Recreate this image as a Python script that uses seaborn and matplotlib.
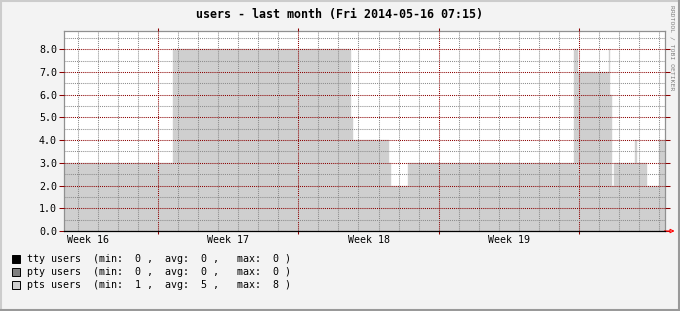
import matplotlib
matplotlib.use("Agg")
import matplotlib.pyplot as plt
from matplotlib.ticker import MultipleLocator, FormatStrFormatter
from matplotlib.patches import Rectangle
from matplotlib.lines import Line2D
import seaborn as sns
import pandas as pd

# ---- data (time in days from Monday of ISO week 17, 2014-04-21 00:00) ----
step_start_days = [-4.70, 0.73, 9.63, 9.73, 11.53, 11.63, 12.48, 20.78, 20.98,
                   22.48, 22.53, 22.63, 22.73, 23.78, 23.88, 24.38, 24.98]
pts_values = [3, 8, 5, 4, 3, 2, 3, 8, 7, 8, 6, 2, 3, 4, 3, 2, 4]
pty_values = [0, 0, 0, 0, 0, 0, 0, 0, 0, 0, 0, 0, 0, 0, 0, 0, 0]
tty_values = [0, 0, 0, 0, 0, 0, 0, 0, 0, 0, 0, 0, 0, 0, 0, 0, 0]
end_day = 25.30
start_day = -4.70

week_starts = [-7, 0, 7, 14]
week_labels = ["Week 16", "Week 17", "Week 18", "Week 19"]

title = "users - last month (Fri 2014-05-16 07:15)"
legend_names = ["tty users", "pty users", "pts users"]
legend_stats = [(0, 0, 0), (0, 0, 0), (1, 5, 8)]
legend_colors = ["#000000", "#808080", "#cfcfcf"]
credit = "RRDTOOL / TOBI OETIKER"

# ---- style ----
sns.set_theme(style="white")
plt.rcParams["font.family"] = ["DejaVu Sans Mono"]
W, H = 680, 311
fig = plt.figure(figsize=(W / 100, H / 100), dpi=100, facecolor="#f3f3f3")
ax = fig.add_axes([64 / W, (H - 231) / H, (665 - 64) / W, 200 / H])
ax.set_facecolor("white")

df = pd.DataFrame({
    "day": step_start_days + [end_day],
    "tty": tty_values + [tty_values[-1]],
    "pty": pty_values + [pty_values[-1]],
    "pts": pts_values + [pts_values[-1]],
})
df["pty_top"] = df["tty"] + df["pty"]
df["pts_top"] = df["pty_top"] + df["pts"]

ax.fill_between(df["day"], 0, df["tty"], step="post", color=legend_colors[0], lw=0, zorder=1)
ax.fill_between(df["day"], df["tty"], df["pty_top"], step="post", color=legend_colors[1], lw=0, zorder=1)
ax.fill_between(df["day"], df["pty_top"], df["pts_top"], step="post", color=legend_colors[2], lw=0, zorder=1)
sns.lineplot(data=df, x="day", y="pts_top", drawstyle="steps-post", color=legend_colors[2],
             lw=0.3, ax=ax, zorder=1.2, legend=False)

ax.set_xlim(start_day, end_day)
ax.set_ylim(0, 8.8)
ax.xaxis.set_major_locator(MultipleLocator(7))
ax.xaxis.set_minor_locator(MultipleLocator(1))
ax.yaxis.set_major_locator(MultipleLocator(1))
ax.yaxis.set_minor_locator(MultipleLocator(0.5))
ax.yaxis.set_major_formatter(FormatStrFormatter("%.1f"))
ax.set_xticklabels([])
ax.set_xlabel("")
ax.set_ylabel("")

dot = (0, (1, 1))
ax.set_axisbelow(False)
ax.grid(True, which="minor", color="#8c8c8c", lw=0.75, ls=dot)
ax.grid(True, which="major", color="#8b0000", lw=0.75, ls=dot)

red = "#8b0000"
ax.tick_params(axis="y", which="major", left=True, right=True, length=3.6, width=0.75,
               color=red, labelsize=7.2, pad=1.5, labelcolor="black")
ax.tick_params(axis="x", which="major", bottom=True, top=True, length=2.2, width=0.75,
               color=red)
ax.tick_params(which="minor", length=0)

for s in ["top", "left", "right"]:
    ax.spines[s].set_color("#909090")
    ax.spines[s].set_linewidth(0.9)
ax.spines["bottom"].set_color("black")
ax.spines["bottom"].set_linewidth(0.9)
ax.spines["bottom"].set_zorder(5)

# arrow at end of x axis
ax.annotate("", xy=(1.016, 0), xytext=(0.999, 0), xycoords="axes fraction",
            arrowprops=dict(arrowstyle="-|>", color="red", lw=0.8,
                            mutation_scale=6, fc="white", shrinkA=0, shrinkB=0),
            annotation_clip=False)

# week labels centred in each week
for ws, lab in zip(week_starts, week_labels):
    ax.text(ws + 3.5, -0.045, lab, transform=ax.get_xaxis_transform(),
            ha="center", va="center", fontsize=7.2, color="black", clip_on=False)

# title
fig.text(340 / W, 1 - 14.5 / H, title, ha="center", va="center", fontsize=8.4,
         fontweight="bold", color="black")

# credit
fig.text(672.5 / W, 1 - 5 / H, credit, rotation=270, ha="center", va="top",
         fontsize=4.6, color="#808080")

# legend
for i, (name, st, col) in enumerate(zip(legend_names, legend_stats, legend_colors)):
    yc = 258.7 + 13 * i
    fig.patches.append(Rectangle((12 / W, 1 - (yc + 4) / H), 8 / W, 8 / H,
                                 transform=fig.transFigure, facecolor=col,
                                 edgecolor="black", lw=0.7))
    txt = f"{name}  (min:  {st[0]} ,  avg:  {st[1]} ,   max:  {st[2]} )"
    fig.text(27 / W, 1 - yc / H, txt, ha="left", va="center", fontsize=7.2, color="black")

# 3D border of canvas
lw_b = 1.5
fig.add_artist(Line2D([0, 1], [1 - 1 / H, 1 - 1 / H], transform=fig.transFigure, color="#cccccc", lw=lw_b))
fig.add_artist(Line2D([1 / W, 1 / W], [0, 1], transform=fig.transFigure, color="#cccccc", lw=lw_b))
fig.add_artist(Line2D([1 - 1 / W, 1 - 1 / W], [0, 1], transform=fig.transFigure, color="#999999", lw=lw_b))
fig.add_artist(Line2D([0, 1], [1 / H, 1 / H], transform=fig.transFigure, color="#999999", lw=lw_b))

fig.savefig("out.png", dpi=100, facecolor=fig.get_facecolor())
